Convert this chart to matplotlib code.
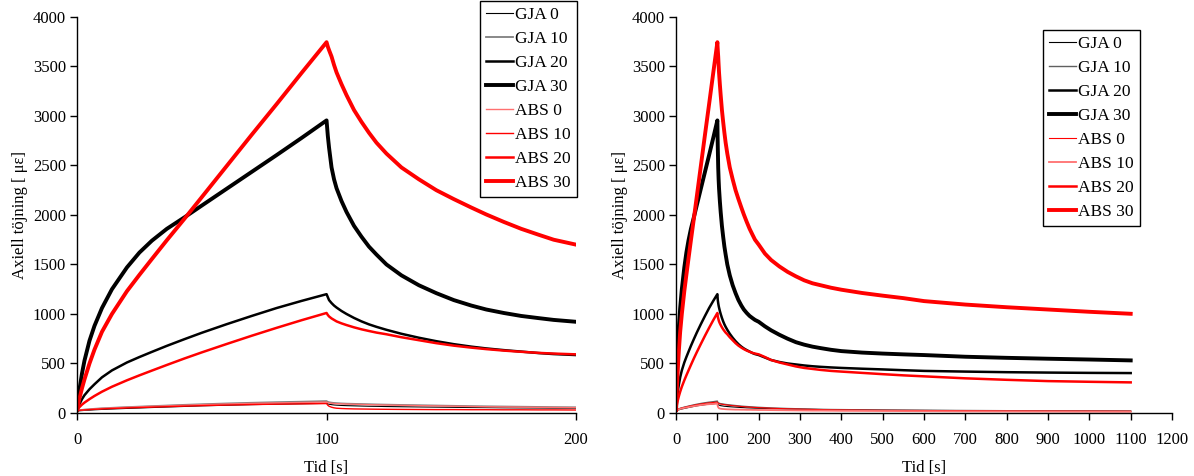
import matplotlib
matplotlib.use("Agg")
import matplotlib.pyplot as plt

plt.rcParams['font.family'] = ['Liberation Serif', 'DejaVu Serif']

# tid [s] för pålastning, avlastning och lång avlastning (gemensam för alla serier)
tid = [0, 1, 2, 3, 5, 7, 10, 14, 20, 25, 30, 36, 43, 50, 60, 70, 80, 90, 100,
       100.5, 101, 102, 103, 104, 106, 108, 111, 114, 117, 120, 124, 130, 137, 144,
       151, 158, 164, 171, 178, 185, 191, 200,
       215, 230, 250, 270, 290, 310, 330, 350, 375, 400, 450, 500, 550, 600, 700,
       800, 900, 1000, 1100]

gja_0 = [20, 22, 24, 26, 29, 32, 36, 40, 46, 50, 55, 60, 66, 72, 78, 84, 89, 93, 97,
         92, 88, 84, 81, 79, 76, 74, 72, 70, 68, 67, 65, 63, 61, 59, 57, 55, 54, 52, 51, 50, 49, 48,
         46, 44, 42, 40, 38, 37, 36, 35, 33, 32, 30, 28, 27, 26, 24, 22, 20, 18, 16]
gja_10 = [25, 28, 31, 34, 38, 42, 47, 52, 59, 64, 69, 75, 82, 88, 96, 103, 109, 114, 120,
          112, 108, 104, 101, 99, 96, 94, 92, 90, 88, 86, 84, 81, 78, 75, 72, 69, 67, 65, 63, 61, 59, 57,
          54, 51, 48, 45, 43, 41, 39, 37, 35, 34, 32, 30, 28, 27, 25, 23, 22, 21, 20]
gja_20 = [30, 90, 140, 180, 240, 290, 360, 430, 510, 565, 617, 678, 745, 810, 897, 980, 1060, 1132, 1200,
          1170, 1140, 1110, 1085, 1065, 1030, 1000, 960, 925, 895, 870, 840, 800, 760, 725,
          695, 670, 652, 635, 620, 605, 595, 585,
          560, 535, 515, 500, 490, 480, 472, 466, 460, 455, 447, 440, 432, 425, 418, 412, 408, 405, 403]
gja_30 = [30, 240, 400, 530, 730, 880, 1060, 1250, 1470, 1620, 1740, 1860, 1975, 2095, 2265, 2435, 2605, 2778, 2955,
          2800, 2680, 2480, 2360, 2270, 2140, 2030, 1890, 1780, 1680, 1600, 1500, 1390, 1290, 1210,
          1140, 1085, 1045, 1010, 980, 958, 940, 921,
          875, 835, 790, 750, 715, 690, 670, 655, 638, 625, 610, 600, 592, 585, 568, 557, 548, 540, 531]
abs_0 = [25, 27, 30, 33, 37, 41, 46, 51, 57, 62, 67, 72, 78, 84, 91, 97, 102, 106, 110,
         104, 101, 98, 96, 94, 92, 90, 88, 86, 84, 82, 80, 77, 74, 71, 68, 65, 63, 61, 59, 57, 56, 54,
         51, 48, 45, 42, 40, 38, 36, 34, 32, 31, 29, 27, 26, 25, 23, 21, 20, 19, 18]
abs_10 = [25, 27, 29, 31, 34, 37, 41, 45, 51, 55, 59, 64, 69, 74, 80, 85, 89, 92, 95,
          78, 68, 58, 52, 48, 45, 43, 41, 40, 39, 38, 37, 36, 35, 34, 34, 33, 33, 32, 32, 31, 31, 30,
          30, 29, 28, 27, 26, 25, 24, 24, 23, 22, 21, 20, 19, 18, 16, 15, 14, 13, 12]
abs_20 = [30, 60, 85, 105, 140, 172, 215, 265, 330, 380, 428, 485, 550, 612, 697, 780, 860, 937, 1010,
          990, 975, 955, 940, 925, 905, 888, 865, 845, 828, 812, 795, 765, 735, 705,
          680, 660, 645, 630, 618, 607, 600, 592,
          565, 535, 510, 490, 470, 455, 445, 435, 425, 418, 405, 392, 380, 370, 350, 335, 322, 315, 309]
abs_30 = [30, 150, 250, 340, 500, 640, 820, 1000, 1230, 1395, 1555, 1745, 1960, 2180, 2495, 2810, 3120, 3435, 3745,
          3700, 3665, 3600, 3515, 3440, 3320, 3210, 3060, 2940, 2830, 2730, 2620, 2480, 2360, 2250,
          2160, 2075, 2005, 1930, 1860, 1800, 1750, 1700,
          1610, 1545, 1480, 1425, 1380, 1340, 1310, 1290, 1265, 1245, 1212, 1185, 1160, 1130, 1095,
          1068, 1045, 1022, 1002]

serier = [gja_0, gja_10, gja_20, gja_30, abs_0, abs_10, abs_20, abs_30]
namn = ['GJA 0', 'GJA 10', 'GJA 20', 'GJA 30', 'ABS 0', 'ABS 10', 'ABS 20', 'ABS 30']

# (färg, linjebredd) per serie, vänster resp. höger diagram
stil_v = [('black', 0.8), ('#7f7f7f', 1.3), ('black', 1.8), ('black', 2.8),
          ('#ff7070', 1.0), ('red', 1.0), ('red', 1.8), ('red', 2.8)]
stil_h = [('black', 0.8), ('#606060', 1.0), ('black', 1.8), ('black', 2.8),
          ('red', 0.8), ('#ff7070', 1.3), ('red', 1.8), ('red', 2.8)]


def rita(ax, stil, xmax, xsteg):
    for y, lab, (c, lw) in zip(serier, namn, stil):
        ax.plot(tid, y, color=c, lw=lw, label=lab)
    ax.set_xlim(0, xmax)
    ax.set_ylim(0, 4000)
    ax.set_xticks(range(0, xmax + 1, xsteg))
    ax.set_yticks(range(0, 4001, 500))
    ax.spines['top'].set_visible(False)
    ax.spines['right'].set_visible(False)
    for s in ['left', 'bottom']:
        ax.spines[s].set_linewidth(1.0)
    ax.tick_params(direction='out', length=5, width=1, labelsize=12)
    ax.tick_params(axis='x', pad=9)
    ax.tick_params(axis='y', pad=3)
    ax.set_xlabel('Tid [s]', fontsize=12, labelpad=8)
    ax.set_ylabel('Axiell töjning [ με]', fontsize=12, labelpad=3)


def main():
    fig = plt.figure(figsize=(11.94, 4.76), dpi=100)
    ax1 = fig.add_axes([0.0645, 0.1324, 0.418, 0.832])
    ax2 = fig.add_axes([0.5662, 0.1324, 0.4154, 0.832])

    rita(ax1, stil_v, 200, 100)
    rita(ax2, stil_h, 1200, 100)

    for ax, pos in [(ax1, (0.4832, 0.998)), (ax2, (0.9548, 0.937))]:
        leg = ax.legend(loc='upper right', bbox_to_anchor=pos,
                        bbox_transform=fig.transFigure, fontsize=12.5,
                        frameon=True, fancybox=False, framealpha=1,
                        edgecolor='black', borderpad=0.35, labelspacing=0.45,
                        handlelength=1.55, handletextpad=0.15, borderaxespad=0)
        leg.get_frame().set_linewidth(1.0)

    fig.savefig('out.png', dpi=100)


if __name__ == "__main__":
    main()
